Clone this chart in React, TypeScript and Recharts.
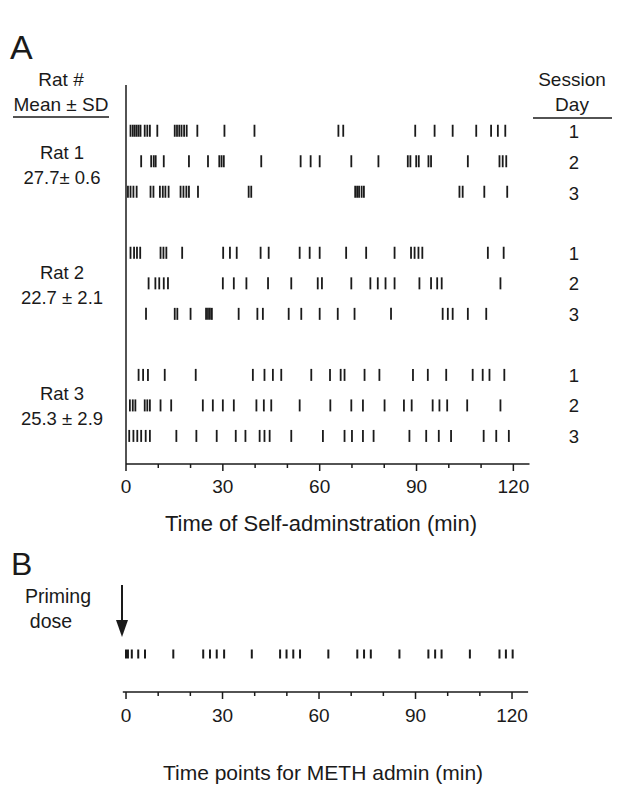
import React from "react";
import { ScatterChart, Scatter, XAxis, YAxis } from "recharts";

const rat1Day1 = [1.4, 2.1, 2.7, 3.3, 3.9, 4.5, 5.8, 6.6, 7.4, 9.7, 15.1, 15.8, 16.5, 17.2, 18.0, 18.8, 22.1, 30.5, 39.8, 65.8, 67.3, 89.6, 95.6, 101.2, 108.5, 113.1, 115.2, 117.5];
const rat1Day2 = [4.7, 7.8, 8.6, 9.2, 11.7, 19.5, 25.4, 28.9, 29.6, 30.3, 41.9, 54.1, 57.2, 60.0, 69.8, 78.2, 87.3, 88.1, 89.9, 90.7, 93.7, 94.5, 105.9, 115.7, 116.7, 117.8];
const rat1Day3 = [0.6, 1.4, 2.3, 3.3, 7.6, 8.5, 10.5, 11.4, 12.2, 13.2, 16.9, 17.8, 18.7, 19.5, 22.3, 38.0, 38.8, 71.0, 71.6, 72.2, 73.0, 73.7, 103.3, 104.3, 111.0, 118.1];
const rat2Day1 = [1.4, 2.5, 3.4, 4.4, 10.7, 11.6, 12.5, 17.4, 30.1, 32.2, 34.3, 41.7, 44.2, 53.8, 56.9, 60.0, 68.2, 74.4, 83.2, 88.3, 89.4, 90.6, 91.8, 112.1, 117.0];
const rat2Day2 = [7.0, 9.1, 10.3, 11.7, 13.0, 30.0, 33.4, 37.3, 44.0, 51.2, 59.4, 60.7, 69.8, 75.7, 78.0, 80.4, 83.2, 90.9, 94.5, 96.4, 97.8, 116.0];
const rat2Day3 = [6.2, 15.1, 15.9, 20.0, 24.8, 25.4, 26.0, 26.6, 34.9, 40.7, 42.4, 50.4, 54.3, 60.0, 65.6, 70.8, 82.1, 98.1, 99.7, 101.2, 105.9, 111.6];
const rat3Day1 = [3.9, 5.3, 6.8, 12.0, 21.6, 39.3, 42.9, 45.5, 48.1, 57.4, 63.2, 66.5, 67.7, 73.9, 78.5, 88.9, 93.5, 99.2, 107.4, 110.5, 112.6, 117.2];
const rat3Day2 = [1.2, 2.1, 2.9, 5.8, 6.6, 7.4, 10.7, 14.0, 23.8, 26.9, 30.0, 33.4, 40.4, 42.7, 45.0, 53.8, 63.3, 69.8, 73.4, 80.1, 86.1, 88.5, 95.0, 97.1, 99.5, 105.7, 116.0];
const rat3Day3 = [1.0, 2.3, 3.5, 4.7, 6.1, 7.4, 15.6, 21.8, 28.1, 34.0, 37.0, 41.4, 42.9, 44.5, 51.2, 61.0, 67.7, 70.0, 73.4, 76.7, 87.8, 93.0, 96.9, 100.7, 110.8, 114.7, 118.6];

const methTimes = [0, 0.6, 1.8, 3.8, 5.9, 14.7, 24.0, 26.1, 28.2, 30.5, 39.1, 47.9, 49.9, 52.0, 54.1, 62.9, 71.9, 74.0, 76.1, 85.0, 94.0, 96.1, 98.1, 106.9, 116.1, 118.1, 120.2];

const ratLabels = ["Rat 1", "Rat 2", "Rat 3"];
const ratStats = ["27.7\u00b1 0.6", "22.7 \u00b1 2.1", "25.3 \u00b1 2.9"];
const sessionDays = ["1", "2", "3"];
const timeTicks = [0, 10, 20, 30, 40, 50, 60, 70, 80, 90, 100, 110, 120];
const majorTicks = [0, 30, 60, 90, 120];

const rowSeries = [rat1Day1, rat1Day2, rat1Day3, rat2Day1, rat2Day2, rat2Day3, rat3Day1, rat3Day2, rat3Day3];
const rowIndex = [0, 1, 2, 4, 5, 6, 8, 9, 10];

const rasterData = rowSeries.map((vals, i) => vals.map((x) => ({ x, y: rowIndex[i] })));
const methData = methTimes.map((x) => ({ x, y: 0.5 }));

const FONT = "'Liberation Sans', Arial, Helvetica, sans-serif";
const INK = "#1a1a1a";

const TickMark = (h: number, w: number) => (props: any) => {
  const { cx, cy } = props;
  return <line x1={cx} x2={cx} y1={cy - h / 2} y2={cy + h / 2} stroke={INK} strokeWidth={w} />;
};

const makeAxisTick = (labelOffset: number) => (props: any) => {
  const { x, y, payload } = props;
  const major = majorTicks.includes(payload.value);
  return (
    <g>
      <line x1={x} x2={x} y1={y} y2={y + (major ? 7 : 4)} stroke={INK} strokeWidth={1.5} />
      {major && (
        <text x={x} y={y + labelOffset} textAnchor="middle" fontSize={19} fill={INK} fontFamily={FONT}>
          {payload.value}
        </text>
      )}
    </g>
  );
};

export default function App() {
  const groupY = [152, 272, 393];
  const statY = [177, 297, 418];
  const dayY = [131, 162, 193, 253, 283, 314, 375, 405, 436];
  return (
    <div style={{ position: "absolute", left: 0, top: 0, width: 619, height: 787, background: "#fff", fontFamily: FONT }}>
      <div style={{ position: "absolute", left: 0, top: 0 }}>
        <ScatterChart width={619} height={500} margin={{ top: 85, right: 89.5, bottom: 6, left: 125 }}>
          <XAxis
            type="number"
            dataKey="x"
            domain={[0, 125]}
            ticks={timeTicks}
            interval={0}
            height={30}
            tickSize={0}
            tickMargin={0}
            tick={makeAxisTick(29)}
            axisLine={{ stroke: INK, strokeWidth: 1.5 }}
          />
          <YAxis
            type="number"
            dataKey="y"
            domain={[-1.5, 10.92]}
            reversed
            width={1}
            tick={false}
            tickLine={false}
            axisLine={{ stroke: INK, strokeWidth: 1.5 }}
            allowDataOverflow
          />
          {rasterData.map((d, i) => (
            <Scatter key={i} data={d} isAnimationActive={false} shape={TickMark(12, 1.8)} />
          ))}
        </ScatterChart>
      </div>
      <div style={{ position: "absolute", left: 0, top: 540 }}>
        <ScatterChart width={619} height={200} margin={{ top: 76, right: 90.9, bottom: 18, left: 122.8 }}>
          <XAxis
            type="number"
            dataKey="x"
            domain={[-1, 125]}
            ticks={timeTicks}
            interval={0}
            height={30}
            tickSize={0}
            tickMargin={0}
            tick={makeAxisTick(30)}
            axisLine={{ stroke: INK, strokeWidth: 1.5 }}
          />
          <YAxis type="number" dataKey="y" domain={[0, 1]} hide width={0} />
          <Scatter data={methData} isAnimationActive={false} shape={TickMark(9, 2)} />
        </ScatterChart>
      </div>
      <svg width={619} height={787} style={{ position: "absolute", left: 0, top: 0, pointerEvents: "none" }} fontFamily={FONT}>
        <text x={10} y={59} fontSize={34} fill={INK}>A</text>
        <text x={61} y={86} fontSize={19} textAnchor="middle" fill={INK}>Rat #</text>
        <text x={61} y={111} fontSize={19} textAnchor="middle" fill={INK}>Mean ± SD</text>
        <line x1={13} x2={109} y1={117} y2={117} stroke={INK} strokeWidth={1.5} />
        <text x={572} y={86} fontSize={19} textAnchor="middle" fill={INK}>Session</text>
        <text x={572} y={111} fontSize={19} textAnchor="middle" fill={INK}>Day</text>
        <line x1={533} x2={612} y1={118} y2={118} stroke={INK} strokeWidth={1.5} />
        {ratLabels.map((r, i) => (
          <text key={r} x={62} y={groupY[i] + 7} fontSize={18.5} textAnchor="middle" fill={INK}>{r}</text>
        ))}
        {ratStats.map((s, i) => (
          <text key={s} x={62} y={statY[i] + 7} fontSize={18.5} textAnchor="middle" fill={INK}>{s}</text>
        ))}
        {dayY.map((y, i) => (
          <text key={i} x={574} y={y + 7} fontSize={18.5} textAnchor="middle" fill={INK}>{sessionDays[i % 3]}</text>
        ))}
        <text x={321} y={531} fontSize={22} textAnchor="middle" fill={INK}>Time of Self-adminstration (min)</text>
        <text x={11} y={575} fontSize={32} fill={INK}>B</text>
        <text x={58} y={603} fontSize={19.5} textAnchor="middle" fill={INK}>Priming</text>
        <text x={51} y={628} fontSize={19.5} textAnchor="middle" fill={INK}>dose</text>
        <line x1={122} x2={122} y1={585} y2={624} stroke={INK} strokeWidth={2} />
        <polygon points="116,620 128,620 122,637" fill={INK} />
        <text x={323} y={780} fontSize={21} textAnchor="middle" fill={INK}>Time points for METH admin (min)</text>
      </svg>
    </div>
  );
}
